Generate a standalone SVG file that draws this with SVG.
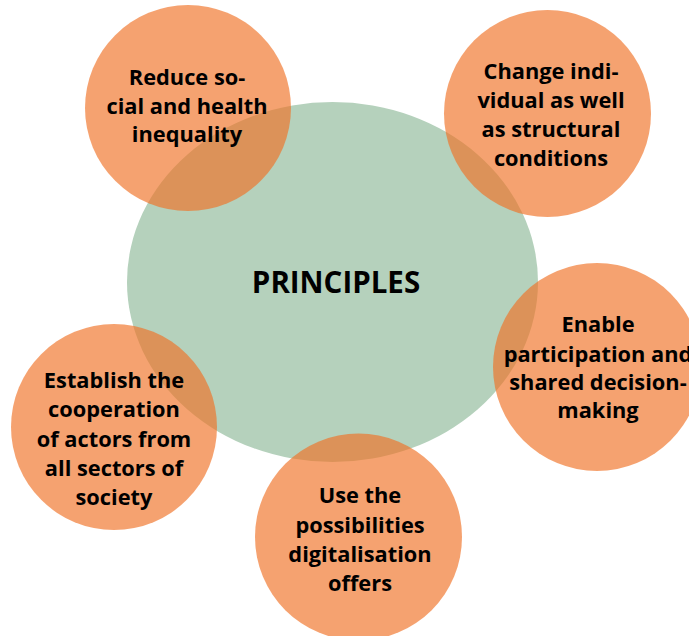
<svg xmlns="http://www.w3.org/2000/svg" width="689" height="636" viewBox="0 0 689 636">
<style>
.hub{fill:#B5D1BC}
.p{fill:#F07226;fill-opacity:0.66}
text{font-family:"Open Sans","Noto Sans","DejaVu Sans",sans-serif;font-weight:700;fill:#000;text-anchor:middle}
.t{font-size:21.8px}
.h{font-size:29.5px}
</style>
<rect width="689" height="636" fill="#fff"/>
<g id="connectors"></g>
<g id="principles">
<ellipse class="hub" cx="332.5" cy="282" rx="205.5" ry="180"/>
<text class="h" x="336" y="293">PRINCIPLES</text>
</g>
<g id="reduce">
<circle class="p" cx="188" cy="108" r="103"/>
<text class="t"><tspan x="187" y="85">Reduce so-</tspan><tspan x="187" y="114">cial and health</tspan><tspan x="187" y="142">inequality</tspan></text>
</g>
<g id="change">
<circle class="p" cx="547.5" cy="113.5" r="103.5"/>
<text class="t"><tspan x="551" y="79">Change indi-</tspan><tspan x="551" y="108">vidual as well</tspan><tspan x="551" y="137">as structural</tspan><tspan x="551" y="166">conditions</tspan></text>
</g>
<g id="enable">
<circle class="p" cx="597" cy="367" r="104"/>
<text class="t"><tspan x="598" y="332">Enable</tspan><tspan x="598" y="362">participation and</tspan><tspan x="598" y="390">shared decision-</tspan><tspan x="598" y="418">making</tspan></text>
</g>
<g id="digital">
<circle class="p" cx="358.5" cy="537" r="103.5"/>
<text class="t"><tspan x="360" y="503">Use the</tspan><tspan x="360" y="533">possibilities</tspan><tspan x="360" y="562">digitalisation</tspan><tspan x="360" y="591">offers</tspan></text>
</g>
<g id="cooperation">
<circle class="p" cx="114" cy="427" r="103"/>
<text class="t"><tspan x="114" y="388">Establish the</tspan><tspan x="114" y="417">cooperation</tspan><tspan x="114" y="447">of actors from</tspan><tspan x="114" y="476">all sectors of</tspan><tspan x="114" y="505">society</tspan></text>
</g>
</svg>
